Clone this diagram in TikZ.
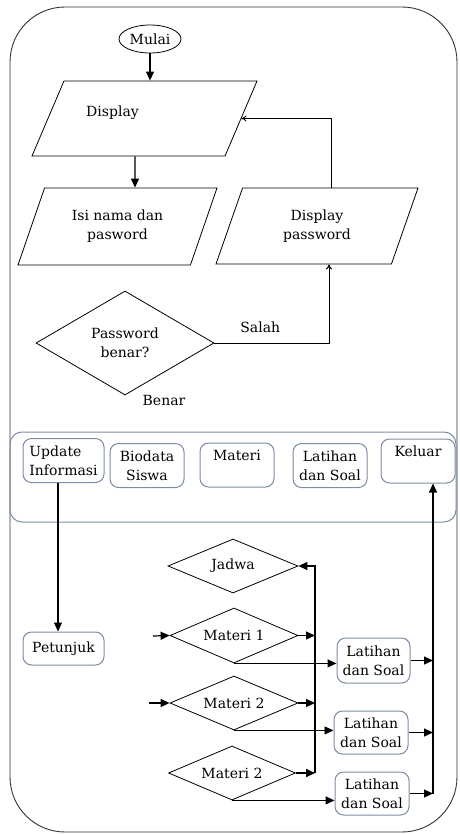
\documentclass[tikz,border=0pt]{standalone}
\usepackage{fontspec}
\setmainfont{DejaVu Serif}
\usetikzlibrary{arrows.meta,positioning,shapes.geometric,calc}
\definecolor{boxColor}{RGB}{125,140,165}
\tikzset{
	arr/.style={-{Triangle[length=9pt,width=8pt]}, line width=1.2pt},
	thinarr/.style={-{To[length=5pt,width=6pt]}, line width=1pt},
	io/.style={draw, trapezium, trapezium left angle=54, trapezium right angle=126,
		trapezium stretches body, line width=0.8pt, inner sep=2pt, align=center},
	choice/.style={draw, diamond, aspect=2.3, line width=0.8pt, inner sep=0pt, align=center},
	menubox/.style={draw=boxColor, rounded corners=3mm, line width=1pt, fill=white,
		align=center, inner sep=2pt, minimum width=74pt, minimum height=44pt}
}

\begin{document}
\begin{tikzpicture}[x=1pt, y=-1pt, font=\fontsize{14}{19}\selectfont]
	\useasboundingbox (0,0) rectangle (459,834);
	\draw[line width=0.9pt, draw=black!80, rounded corners=55pt] (10,7) rectangle (457,832);
	\draw[boxColor, line width=1pt, rounded corners=12pt] (10,432) rectangle (456,522);
	
	\node[draw, ellipse, line width=0.8pt, minimum width=62pt, minimum height=28pt, inner sep=1pt] (mulai) at (150,39) {Mulai};
	\node[io, minimum width=225pt, minimum height=75pt, text width=100pt, text height=25pt, text depth=15pt,
		label={[xshift=-32pt,yshift=6pt]center:Display}] (display) at (144.5,118.5) {};
	\node[io, minimum width=199pt, minimum height=77pt] (isi) at (117.5,226.5) {Isi nama dan\\pasword};
	\node[io, minimum width=202pt, minimum height=76pt] (dpass) at (317,226) {Display\\password};
	\node[choice, minimum width=178pt, minimum height=104pt] (cek) at (125,343) {Password\\benar?};
	\node (benar) at (164,400) {Benar};
	
	% menu
	\node[menubox, align=left, minimum width=81pt] (upd) at (63.5,460.5) {Update\\Informasi};
	\node[menubox] (bio) at (147,465.5) {Biodata\\Siswa};
	\node[menubox] (mat) at (237,465) {Materi\\~};
	\node[menubox] (lat) at (330,465.5) {Latihan\\dan Soal};
	\node[menubox] (kel) at (418,461) {Keluar\\~};
	
	\node[menubox, minimum width=81pt, minimum height=33pt] (pet) at (63.5,648.5) {Petunjuk};
	
	\node[choice, minimum width=130pt, minimum height=54pt] (jadwa) at (233,566) {Jadwa};
	\node[choice, minimum width=128pt, minimum height=55pt] (mat1) at (234,635.5) {Materi 1};
	\node[choice, minimum width=128pt, minimum height=54pt] (mat2) at (234,703) {Materi 2};
	\node[choice, minimum width=127pt, minimum height=54pt] (mat3) at (232,773) {Materi 2};
	
	\node[menubox, minimum width=73pt, minimum height=45pt] (lat1) at (373.5,660.5) {Latihan\\dan Soal};
	\node[menubox, minimum height=43pt] (lat2) at (371,732.5) {Latihan\\dan Soal};
	\node[menubox, minimum height=43pt] (lat3) at (372,793.5) {Latihan\\dan Soal};
	
	\coordinate (busL) at (315,0);
	\coordinate (busR) at (433,0);
	\coordinate (in1) at (153,636);
	\coordinate (in2) at (149,703);
	
	\draw[arr] (mulai) -- (display.north -| mulai);
	\draw[arr] ([xshift=-9.5pt]display.south) -- ([xshift=17.5pt]isi.north);
	\draw[thinarr] ([xshift=14pt]dpass.north) |- (display.east);
	\draw[thinarr] (cek.east) -| node[pos=0.2, above=6pt] {Salah} ([xshift=12pt]dpass.south);
	\draw[arr] ([xshift=-5.5pt]upd.south) -- ([xshift=-5.5pt]pet.north);
	
	\draw[arr] (in1) -- (mat1.west);
	\draw[arr] (in2) -- (mat2.west);
	\draw[arr] (mat1.east) -- (mat1.east -| busL);
	\draw[arr] (mat2.east) -- (mat2.east -| busL);
	\draw[arr, line width=1.6pt] (mat3.east) -- (mat3.east -| busL);
	\draw[arr] (mat3.east -| busL) -- (jadwa.east -| busL) -- (jadwa.east);
	
	\draw[arr] (mat1.south) -- (mat1.south -| lat1.west);
	\draw[arr, line width=0.8pt] (mat2.south) -- (mat2.south -| lat2.west);
	\draw[arr] (mat3.south) -- (mat3.south -| lat3.west);
	\draw[arr] (lat1.east) -- (lat1.east -| busR);
	\draw[arr] (lat2.east) -- (lat2.east -| busR);
	\draw[arr] (lat3.east) -- (lat3.east -| busR);
	\draw[arr] (lat3.east -| busR) -- ([xshift=15pt]kel.south);
\end{tikzpicture}
\end{document}
